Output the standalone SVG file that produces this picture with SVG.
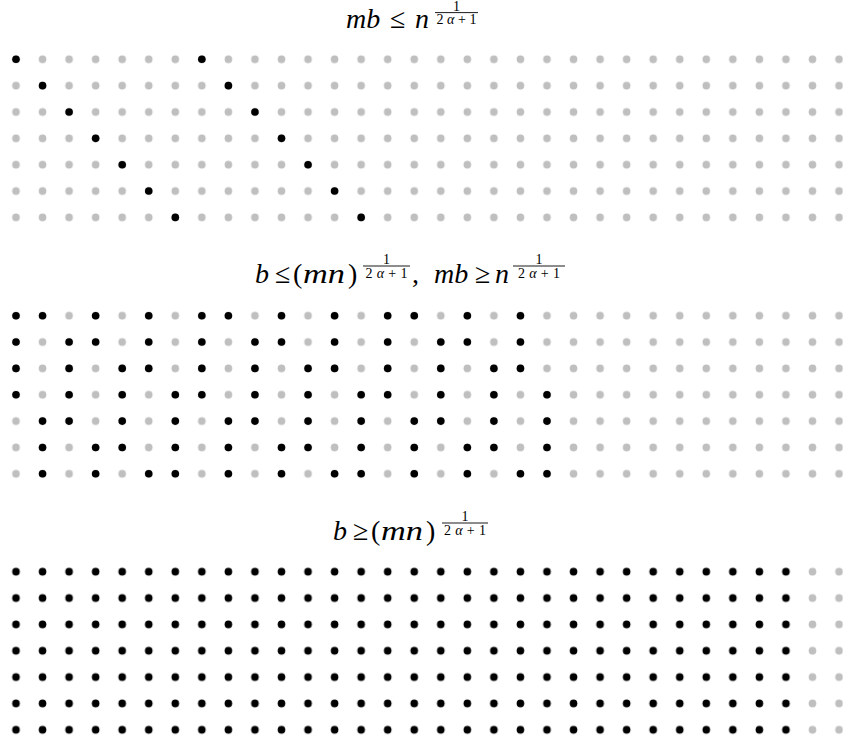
<svg xmlns="http://www.w3.org/2000/svg" width="843" height="742" viewBox="0 0 843 742">
<style>
text{font-family:"Liberation Serif","DejaVu Serif",serif;fill:#000}
.mi{font-style:italic;font-size:28px}
.mo{font-size:28px}
.fr{font-size:14px;text-anchor:middle}
.bar{stroke:#000;stroke-width:0.9}
.blk{fill:#000}
</style>
<defs>
<pattern id="gp" patternUnits="userSpaceOnUse" x="-13.275" y="-13.175" width="26.55" height="26.35">
<circle cx="13.275" cy="13.175" r="3.8" fill="#bfbfbf"/>
</pattern>
<pattern id="bp" patternUnits="userSpaceOnUse" x="-13.275" y="-13.175" width="26.55" height="26.35">
<circle cx="13.275" cy="13.175" r="3.8" fill="#000"/>
</pattern>
<circle id="d" r="3.8" class="blk"/>
</defs>
<rect width="843" height="742" fill="#fff"/>

<g id="panel1">
<g id="title1">
<text class="mi" x="346" y="28.3">mb</text>
<text class="mo" x="390" y="28.3">≤</text>
<text class="mi" x="415" y="28.3">n</text>
<text class="fr" x="456.5" y="10.8">1</text>
<line class="bar" x1="435" y1="12.6" x2="478" y2="12.6"/>
<text class="fr" x="456.5" y="24" textLength="40" lengthAdjust="spacing">2<tspan font-style="italic">α</tspan>+1</text>
</g>
<g id="grid1" transform="translate(16,59.3)">
<rect x="-13.275" y="-13.175" width="849.6" height="184.45" fill="url(#gp)"/>
<use href="#d" x="0" y="0"/><use href="#d" x="185.85" y="0"/>
<use href="#d" x="26.55" y="26.35"/><use href="#d" x="212.4" y="26.35"/>
<use href="#d" x="53.1" y="52.7"/><use href="#d" x="238.95" y="52.7"/>
<use href="#d" x="79.65" y="79.05"/><use href="#d" x="265.5" y="79.05"/>
<use href="#d" x="106.2" y="105.4"/><use href="#d" x="292.05" y="105.4"/>
<use href="#d" x="132.75" y="131.75"/><use href="#d" x="318.6" y="131.75"/>
<use href="#d" x="159.3" y="158.1"/><use href="#d" x="345.15" y="158.1"/>
</g>
</g>

<g id="panel2">
<g id="title2">
<text class="mi" x="255" y="283.3">b</text>
<text class="mo" x="275" y="283.3">≤</text>
<text class="mo" x="293" y="283.3">(</text>
<text class="mi" x="303" y="283.3" textLength="42" lengthAdjust="spacingAndGlyphs">mn</text>
<text class="mo" x="348" y="283.3">)</text>
<text class="fr" x="386.5" y="264.2">1</text>
<line class="bar" x1="363" y1="266" x2="410" y2="266"/>
<text class="fr" x="386.5" y="277.5" textLength="42" lengthAdjust="spacing">2<tspan font-style="italic">α</tspan>+1</text>
<text class="mo" x="412" y="283.3">,</text>
<text class="mi" x="434" y="283.3">mb</text>
<text class="mo" x="475" y="283.3">≥</text>
<text class="mi" x="495" y="283.3">n</text>
<text class="fr" x="539" y="264.2">1</text>
<line class="bar" x1="513" y1="266" x2="565" y2="266"/>
<text class="fr" x="539" y="277.5" textLength="42" lengthAdjust="spacing">2<tspan font-style="italic">α</tspan>+1</text>
</g>
<g id="grid2" transform="translate(16,315.7)">
<rect x="-13.275" y="-13.175" width="849.6" height="184.45" fill="url(#gp)"/>
<g>
<use href="#d" x="0" y="0"/><use href="#d" x="26.55" y="0"/><use href="#d" x="79.65" y="0"/><use href="#d" x="132.75" y="0"/><use href="#d" x="185.85" y="0"/><use href="#d" x="212.4" y="0"/><use href="#d" x="265.5" y="0"/><use href="#d" x="318.6" y="0"/><use href="#d" x="371.7" y="0"/><use href="#d" x="398.25" y="0"/><use href="#d" x="451.35" y="0"/><use href="#d" x="504.45" y="0"/>
</g>
<g transform="translate(0,26.35)">
<use href="#d" x="0"/><use href="#d" x="53.1"/><use href="#d" x="79.65"/><use href="#d" x="132.75"/><use href="#d" x="185.85"/><use href="#d" x="238.95"/><use href="#d" x="265.5"/><use href="#d" x="318.6"/><use href="#d" x="371.7"/><use href="#d" x="424.8"/><use href="#d" x="451.35"/><use href="#d" x="504.45"/>
</g>
<g transform="translate(0,52.7)">
<use href="#d" x="0"/><use href="#d" x="53.1"/><use href="#d" x="106.2"/><use href="#d" x="132.75"/><use href="#d" x="185.85"/><use href="#d" x="238.95"/><use href="#d" x="292.05"/><use href="#d" x="318.6"/><use href="#d" x="371.7"/><use href="#d" x="424.8"/><use href="#d" x="477.9"/><use href="#d" x="504.45"/>
</g>
<g transform="translate(0,79.05)">
<use href="#d" x="0"/><use href="#d" x="53.1"/><use href="#d" x="106.2"/><use href="#d" x="159.3"/><use href="#d" x="185.85"/><use href="#d" x="238.95"/><use href="#d" x="292.05"/><use href="#d" x="345.15"/><use href="#d" x="371.7"/><use href="#d" x="424.8"/><use href="#d" x="477.9"/><use href="#d" x="531"/>
</g>
<g transform="translate(0,105.4)">
<use href="#d" x="26.55"/><use href="#d" x="53.1"/><use href="#d" x="106.2"/><use href="#d" x="159.3"/><use href="#d" x="212.4"/><use href="#d" x="238.95"/><use href="#d" x="292.05"/><use href="#d" x="345.15"/><use href="#d" x="398.25"/><use href="#d" x="424.8"/><use href="#d" x="477.9"/><use href="#d" x="531"/>
</g>
<g transform="translate(0,131.75)">
<use href="#d" x="26.55"/><use href="#d" x="79.65"/><use href="#d" x="106.2"/><use href="#d" x="159.3"/><use href="#d" x="212.4"/><use href="#d" x="265.5"/><use href="#d" x="292.05"/><use href="#d" x="345.15"/><use href="#d" x="398.25"/><use href="#d" x="451.35"/><use href="#d" x="477.9"/><use href="#d" x="531"/>
</g>
<g transform="translate(0,158.1)">
<use href="#d" x="26.55"/><use href="#d" x="79.65"/><use href="#d" x="132.75"/><use href="#d" x="159.3"/><use href="#d" x="212.4"/><use href="#d" x="265.5"/><use href="#d" x="318.6"/><use href="#d" x="345.15"/><use href="#d" x="398.25"/><use href="#d" x="451.35"/><use href="#d" x="504.45"/><use href="#d" x="531"/>
</g>
</g>
</g>

<g id="panel3">
<g id="title3">
<text class="mi" x="333" y="540">b</text>
<text class="mo" x="353" y="540">≥</text>
<text class="mo" x="371" y="540">(</text>
<text class="mi" x="381" y="540" textLength="42" lengthAdjust="spacingAndGlyphs">mn</text>
<text class="mo" x="426" y="540">)</text>
<text class="fr" x="465" y="521">1</text>
<line class="bar" x1="442" y1="523" x2="488" y2="523"/>
<text class="fr" x="465" y="534.5" textLength="42" lengthAdjust="spacing">2<tspan font-style="italic">α</tspan>+1</text>
</g>
<g id="grid3" transform="translate(16,571.7)">
<rect x="783.225" y="-13.175" width="53.1" height="184.45" fill="url(#gp)"/>
<rect x="-13.275" y="-13.175" width="796.5" height="184.45" fill="url(#bp)"/>
</g>
</g>
</svg>
